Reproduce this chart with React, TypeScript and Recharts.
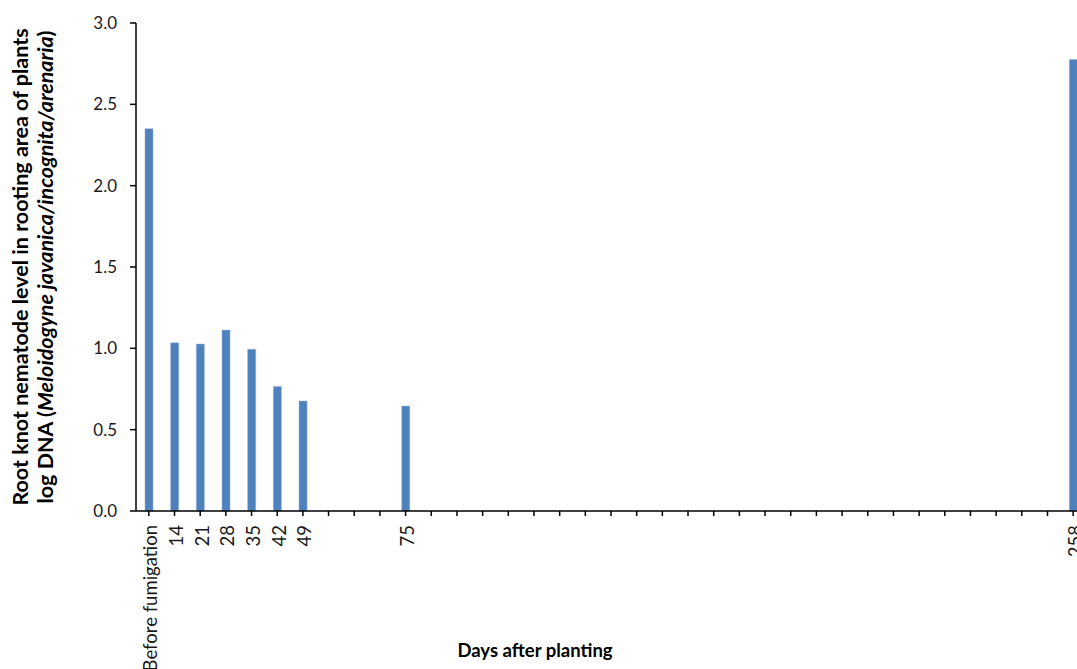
import React from 'react';
import {Bar, BarChart, Label, XAxis, YAxis} from 'recharts';

// x slots: one per tick on the original axis, only some carry a label
const dayLabels = [
    'Before fumigation', '14', '21', '28', '35', '42', '49', '', '', '', '75',
    '', '', '', '', '', '', '', '', '', '', '', '', '', '', '', '', '', '', '',
    '', '', '', '', '', '', '258',
];

const dnaLevel: (number | null)[] = [
    2.35, 1.034, 1.026, 1.112, 0.994, 0.766, 0.676, null, null, null, 0.645,
    null, null, null, null, null, null, null, null, null, null, null, null, null, null, null, null, null, null, null,
    null, null, null, null, null, null, 2.776,
];

const yTicks = [0, 0.5, 1.0, 1.5, 2.0, 2.5, 3.0];

const chartData = dayLabels.map((label, i) => ({slot: i, label, value: dnaLevel[i]}));

const FONT = 'Lato, "Open Sans", sans-serif';

const XTick = (props: any) => {
    const {x, y, index} = props;
    const text = dayLabels[index];
    if (!text) return null;
    return (
        <text
            x={0}
            y={0}
            transform={`translate(${x + 2},${y + 7}) rotate(-90)`}
            textAnchor="end"
            dy="0.35em"
            fontSize={18.5}
            fontFamily={FONT}
            fill="#1a1a1a"
        >
            {text}
        </text>
    );
};

const YTitle = (props: any) => {
    const {viewBox} = props;
    const cy = viewBox.y + viewBox.height / 2;
    return (
        <g fontFamily={FONT} fontWeight="bold" fontSize={21.5} fill="#000">
            <text transform={`translate(28,${cy}) rotate(-90)`} textAnchor="middle">
                Root knot nematode level in rooting area of plants
            </text>
            <text transform={`translate(53,${cy}) rotate(-90)`} textAnchor="middle">
                log DNA (<tspan fontStyle="italic">Meloidogyne  javanica/incognita/arenaria</tspan>)
            </text>
        </g>
    );
};

const XTitle = () => (
    <text x={535} y={657} textAnchor="middle" fontFamily={FONT} fontWeight="bold" fontSize={18.5} fill="#000">
        Days after planting
    </text>
);

export default function App() {
    return (
        <div style={{position: 'fixed', left: 0, top: 0, width: 1077, height: 669, overflow: 'hidden', background: '#fff'}}>
            <BarChart
                width={1100}
                height={669}
                data={chartData}
                margin={{top: 23, right: 14, left: 0, bottom: 0}}
                barCategoryGap={0}
            >
                <XAxis
                    dataKey="slot"
                    type="category"
                    interval={0}
                    height={158}
                    tick={<XTick />}
                    tickSize={5}
                    axisLine={{stroke: '#000', strokeWidth: 1.5}}
                    tickLine={{stroke: '#000', strokeWidth: 1.5}}
                >
                    <Label content={<XTitle />} />
                </XAxis>
                <YAxis
                    width={136}
                    domain={[0, 3]}
                    ticks={yTicks}
                    interval={0}
                    tickFormatter={(v: number) => v.toFixed(1)}
                    tickSize={6}
                    tickMargin={13}
                    tick={{fontSize: 17, fontFamily: FONT, fill: '#1a1a1a'}}
                    axisLine={{stroke: '#000', strokeWidth: 1.5}}
                    tickLine={{stroke: '#000', strokeWidth: 1.5}}
                >
                    <Label content={<YTitle />} />
                </YAxis>
                <Bar dataKey="value" fill="#4F81BD" stroke="#8eaad6" strokeWidth={0.5} barSize={8} isAnimationActive={false} />
            </BarChart>
        </div>
    );
}
